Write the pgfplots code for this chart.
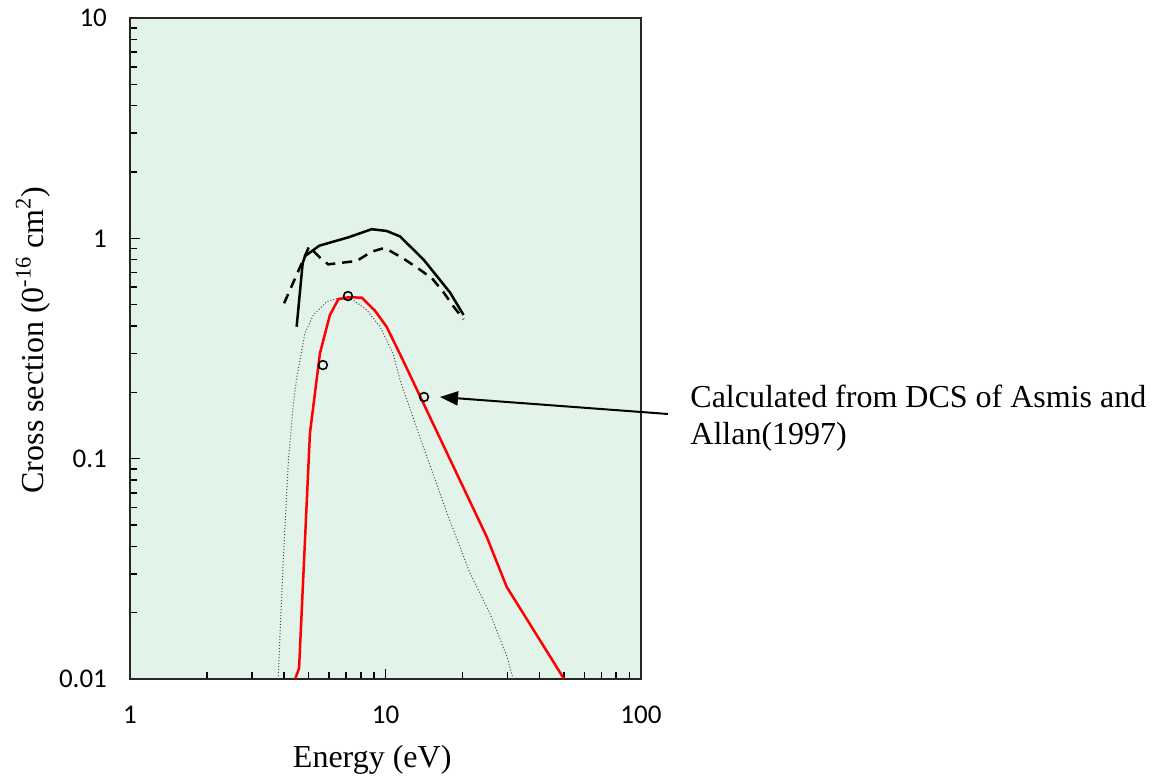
\documentclass[border=0pt]{standalone}
\usepackage{pgfplots}
\pgfplotsset{compat=1.18}
\usepackage{fontspec}
\setmainfont{Liberation Serif}
\newfontfamily\tickfont{Carlito}
\usetikzlibrary{arrows.meta}
\definecolor{bgc}{RGB}{226,243,233}
\begin{document}
\begin{tikzpicture}
\begin{axis}[
  xmode=log, ymode=log,
  scale only axis, width=255.5pt, height=330.5pt,
  xmin=1, xmax=100, ymin=0.01, ymax=10,
  axis background/.style={fill=bgc},
  clip=false,
  axis line style={line width=0.8pt, black!85},
  tick pos=left, tick align=inside,
  xtick={1,10,100}, xticklabels={1,10,100},
  ytick={0.01,0.1,1,10}, yticklabels={0.01,0.1,1,10},
  minor xtick={2,3,4,5,6,7,8,9,20,30,40,50,60,70,80,90},
  minor ytick={0.02,0.03,0.04,0.05,0.06,0.07,0.08,0.09,0.2,0.3,0.4,0.5,0.6,0.7,0.8,0.9,2,3,4,5,6,7,8,9},
  major tick length=5pt, minor tick length=3.5pt,
  every tick/.style={black, line width=0.8pt},
  ticklabel style={font=\tickfont\fontsize{13.5}{13.5}\selectfont},
  yticklabel style={xshift=-8pt},
  xticklabel style={yshift=-10pt},
  xlabel={Energy (eV)},
  ylabel={Cross section (0\textsuperscript{-16} cm\textsuperscript{2})},
  label style={font=\fontsize{16}{16}\selectfont},
  xlabel style={at={(axis description cs:0.474,-0.1225)}, anchor=center},
  ylabel style={at={(axis description cs:-0.19,0.513)}, anchor=center},
]
% solid black
\addplot[black, line width=1.25pt] coordinates {
(4.49,0.397) (4.74,0.77) (4.84,0.83) (5.51,0.926) (7.15,1.01) (8.83,1.10) (10.1,1.08) (11.4,1.02) (14.1,0.80) (17.9,0.567) (20.2,0.449)
};
% dashed black
\addplot[black, line width=1.25pt, dash pattern=on 5pt off 3.5pt] coordinates {
(4.01,0.507) (5.02,0.916) (5.63,0.803) (5.97,0.762) (7.71,0.789) (8.83,0.87) (9.67,0.897) (10.1,0.895) (11.7,0.812) (13.4,0.731) (15.2,0.659) (16.8,0.573) (18.4,0.493) (20.2,0.429)
};
% dotted gray
\addplot[black!70, line width=0.5pt, dash pattern=on 0.5pt off 1pt] coordinates {
(3.80,0.01) (3.98,0.0347) (4.17,0.0986) (4.36,0.178) (4.49,0.232) (4.84,0.371) (5.22,0.449) (5.89,0.516) (6.64,0.538) (7.48,0.525) (8.44,0.473) (9.52,0.397) (10.7,0.30) (11.4,0.2276) (13.6,0.126) (17.4,0.0567) (21.4,0.0303) (25.6,0.0199) (29.9,0.0126) (31.6,0.01)
};
% red
\addplot[red, line width=1.25pt] coordinates {
(4.43,0.01) (4.59,0.0112) (5.06,0.130) (5.54,0.301) (6.06,0.449) (6.54,0.529) (7.15,0.540) (8.07,0.538) (9.10,0.469) (10.1,0.397) (11.7,0.28) (24.9,0.0442) (29.8,0.0262) (50,0.01)
};
% circles
\addplot[only marks, mark=o, mark size=2.2pt, black, line width=0.8pt] coordinates {
(5.69,0.266) (7.13,0.547) (14.15,0.1905)
};
\draw[line width=1pt, -{Triangle[length=9pt,width=7pt]}] (rel axis cs:1.0528,0.4009) -- (rel axis cs:0.6067,0.4266);
\node[anchor=base west, font=\fontsize{16}{16}\selectfont, inner sep=0pt] at (rel axis cs:1.0959,0.41) {Calculated from DCS of Asmis and};
\node[anchor=base west, font=\fontsize{16}{16}\selectfont, inner sep=0pt] at (rel axis cs:1.0959,0.354) {Allan(1997)};
\coordinate (bl) at (rel axis cs:-0.2544,-0.1513);
\coordinate (tr) at (rel axis cs:2.0137,1.0272);
\end{axis}
\pgfresetboundingbox
\path (bl) rectangle (tr);
\end{tikzpicture}
\end{document}
